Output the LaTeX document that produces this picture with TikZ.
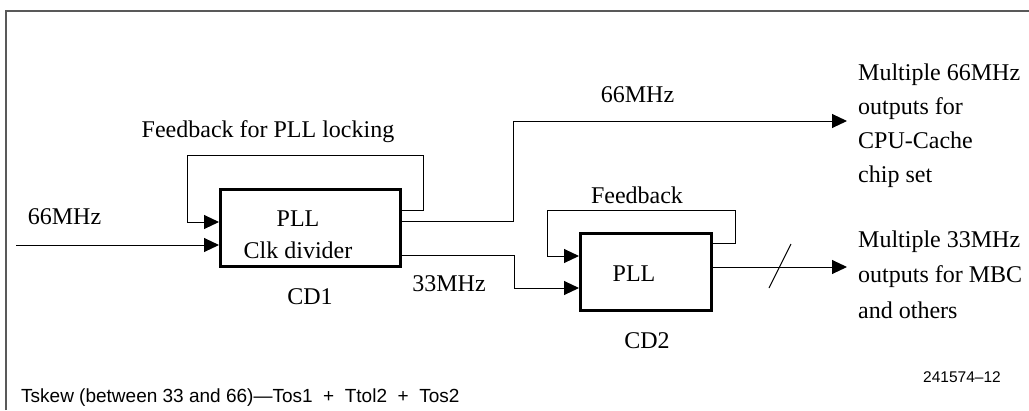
\documentclass[tikz,border=0pt]{standalone}
\usepackage{fontspec}
\setmainfont{Liberation Serif}
\setsansfont{Liberation Sans}
\usetikzlibrary{positioning,arrows.meta,calc}

\begin{document}
\begin{tikzpicture}[
  x=1pt, y=-1pt,
  font=\fontsize{24}{34}\selectfont,
  blk/.style={draw, line width=3pt, inner sep=0pt, minimum height=77pt},
  lbl/.style={inner sep=0pt},
  ar/.style={-{Triangle[length=15pt, width=14pt]}, line width=1pt},
  ln/.style={line width=1pt},
  note/.style={inner sep=0pt, font=\sffamily\fontsize{19}{22}\selectfont}
]
  \useasboundingbox (0,0) rectangle (1029,410);
  \draw[line width=1.6pt, black!65] (6,410) -- (6,11) -- (1029,11);

  % clock dividers
  \node[blk, minimum width=180pt] (cd1) at (310.5,228) {};
  \node[lbl, align=center, font=\fontsize{24}{32}\selectfont] (cd1txt) at (298,235)
    {PLL\\Clk divider};
  \node[lbl] (cd1name) at (310,297) {CD1};
  \node[blk, minimum width=131pt] (cd2) at (646,272) {};
  \node[lbl] (cd2txt) at (634,274) {PLL};
  \node[lbl] (cd2name) at (647,341) {CD2};

  % labels
  \node[lbl] (in66) at (64.5,217) {66MHz};
  \node[lbl] (top66) at (637.5,94.5) {66MHz};
  \node[lbl] (mid33) at (449,284) {33MHz};
  \node[lbl, anchor=base] (fb1) at (268,137) {Feedback for PLL locking};
  \node[lbl, anchor=base] (fb2) at (637,203) {Feedback};
  \node[lbl, align=left, anchor=north west] (m66) at (858,63.6)
    {Multiple 66MHz\\outputs for\\CPU-Cache\\chip set};
  \node[lbl, align=left, anchor=north west, font=\fontsize{24}{35.5}\selectfont]
    (m33) at (858,230.6) {Multiple 33MHz\\outputs for MBC\\and others};
  \node[note, font=\sffamily\fontsize{15.5}{18}\selectfont] (fig) at (962,377)
    {241574--12};
  \node[note, anchor=base west] (tskew) at (21,402)
    {Tskew (between 33 and 66)---Tos1\ \ +\ \ Ttol2\ \ +\ \ Tos2};

  \coordinate (src) at (16,245);
  \coordinate (o66) at (847,121);
  \coordinate (o33) at (847,267);

  % signal paths
  \draw[ar] (src) -- ([yshift=-17pt]cd1.west);
  \draw[ar] ([yshift=18pt]cd1.east) -- ++(21,0) -- ++(0,-55)
    -| ([xshift=-32pt, yshift=6pt]cd1.west) -- ([yshift=6pt]cd1.west);
  \draw[ar] ([yshift=7pt]cd1.east) -- ++(111,0) |- (o66);
  \draw[ar] ([yshift=-27pt]cd1.east) -- ++(112,0) |- ([yshift=-16pt]cd2.west);
  \draw[ar] ([yshift=29pt]cd2.east) -- ++(22,0) -- ++(0,-33)
    -| ([xshift=-32pt, yshift=16pt]cd2.west) -- ([yshift=16pt]cd2.west);
  \draw[ar] ([yshift=5pt]cd2.east) -- (o33);
  \draw[ln] (769,288) -- (791,244);
\end{tikzpicture}
\end{document}
